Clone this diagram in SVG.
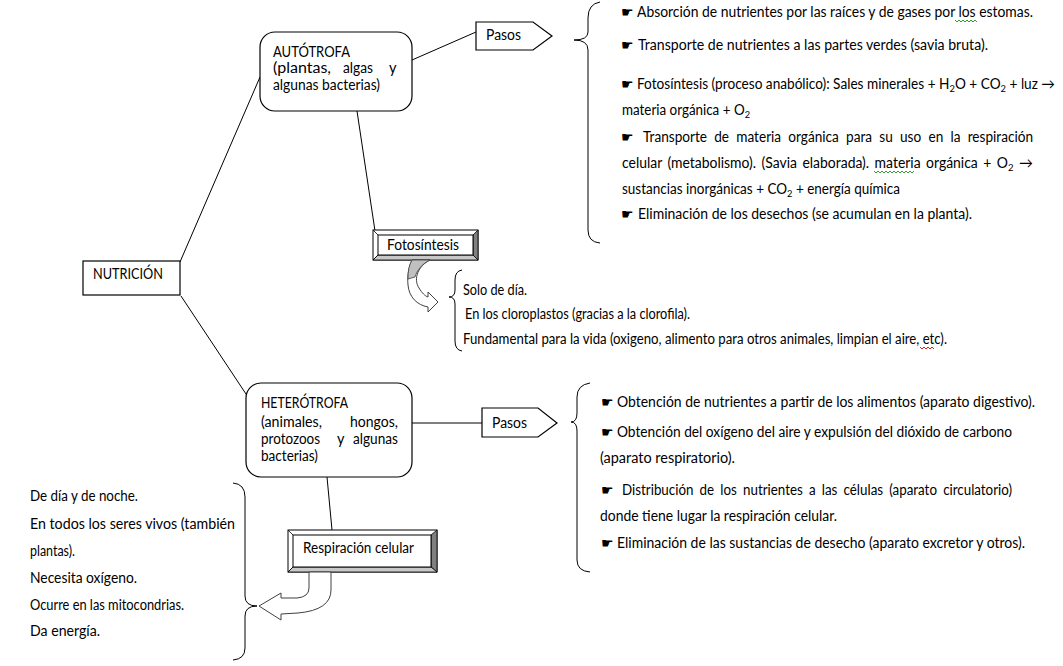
<svg xmlns="http://www.w3.org/2000/svg" width="1063" height="666" viewBox="0 0 1063 666">
<style>
text{font-family:Lato,"Liberation Sans",sans-serif;font-size:14.5px;fill:#000}
.h{font-family:"DejaVu Sans",sans-serif;font-size:14px}
.ln{stroke:#000;stroke-width:1;fill:none}
.box{fill:#fff;stroke:#000;stroke-width:1.2}
.br{fill:none;stroke:#000;stroke-width:1}
.sq{fill:none;stroke-width:1}
</style>
<rect width="1063" height="666" fill="#fff"/>
<g id="connectors">
<line class="ln" x1="180" y1="262" x2="260" y2="77"/>
<line class="ln" x1="181" y1="296" x2="248" y2="397"/>
<line class="ln" x1="412" y1="60" x2="476" y2="32"/>
<line class="ln" x1="357" y1="111" x2="375" y2="231"/>
<line class="ln" x1="412" y1="423" x2="482" y2="423"/>
<line class="ln" x1="327" y1="477" x2="332" y2="530"/>
</g>
<g id="nutricion">
<rect class="box" x="83" y="261" width="97" height="34"/>
<text x="93" y="279" textLength="70" lengthAdjust="spacingAndGlyphs">NUTRICIÓN</text>
</g>
<g id="autotrofa">
<rect class="box" x="260" y="32" width="152" height="79" rx="15"/>
<text x="273" y="57" textLength="77" lengthAdjust="spacingAndGlyphs">AUTÓTROFA</text>
<text x="273" y="73" textLength="58" lengthAdjust="spacingAndGlyphs">(plantas,</text>
<text x="343" y="73" textLength="30" lengthAdjust="spacingAndGlyphs">algas</text>
<text x="389" y="73">y</text>
<text x="273" y="90" textLength="107" lengthAdjust="spacingAndGlyphs">algunas bacterias)</text>
</g>
<g id="pasos1">
<path class="box" d="M476,22 L533,22 L552,36 L533,50 L476,50 Z"/>
<text x="486" y="40" textLength="35" lengthAdjust="spacingAndGlyphs">Pasos</text>
</g>
<g id="heterotrofa">
<rect class="box" x="246" y="383" width="166" height="94" rx="15"/>
<text x="261" y="408" textLength="87" lengthAdjust="spacingAndGlyphs">HETERÓTROFA</text>
<text x="261" y="427" textLength="61" lengthAdjust="spacingAndGlyphs">(animales,</text>
<text x="350" y="427" textLength="48" lengthAdjust="spacingAndGlyphs">hongos,</text>
<text x="261" y="444" textLength="59" lengthAdjust="spacingAndGlyphs">protozoos</text>
<text x="337" y="444">y</text>
<text x="353" y="444" textLength="45" lengthAdjust="spacingAndGlyphs">algunas</text>
<text x="261" y="461" textLength="57" lengthAdjust="spacingAndGlyphs">bacterias)</text>
</g>
<g id="pasos2">
<path class="box" d="M482,408 L538,408 L557,423 L538,437 L482,437 Z"/>
<text x="492" y="428" textLength="35" lengthAdjust="spacingAndGlyphs">Pasos</text>
</g>
<g id="fotosintesis">
<rect x="373" y="230" width="105" height="30" fill="#fff" stroke="#000"/>
<polygon points="473,235 478,230 478,260 473,255" fill="#808080" stroke="#000" stroke-width="0.8"/>
<polygon points="378,255 473,255 478,260 373,260" fill="#c8c8c8" stroke="#000" stroke-width="0.8"/>
<line x1="373" y1="230" x2="378" y2="235" stroke="#000" stroke-width="0.8"/>
<line x1="373" y1="260" x2="378" y2="255" stroke="#000" stroke-width="0.8"/>
<rect x="378" y="235" width="95" height="20" fill="#fff" stroke="#000"/>
<text x="387" y="250" textLength="72" lengthAdjust="spacingAndGlyphs">Fotosíntesis</text>
</g>
<g id="arrow-foto">
<path d="M430,260 C418,266 413,279 419,288 C422,293 425,296 428,297 L428,292 L438,302 L428,312 L428,307 C417,305 409,297 408,285 C407,275 409,266 412,260 Z" fill="#fff" stroke="#404040" stroke-width="1"/>
<path d="M412,260 L430,260 C422,264 417,270 415,277 L408,279 C408,271 409,265 412,260 Z" fill="#c0c0c0" stroke="#404040" stroke-width="0.8"/>
</g>
<g id="respiracion">
<rect x="288" y="530" width="149" height="42" fill="#fff" stroke="#000"/>
<polygon points="431,535 437,530 437,572 431,567" fill="#808080" stroke="#000" stroke-width="0.8"/>
<polygon points="293,567 431,567 437,572 288,572" fill="#c8c8c8" stroke="#000" stroke-width="0.8"/>
<line x1="288" y1="530" x2="293" y2="535" stroke="#000" stroke-width="0.8"/>
<line x1="288" y1="572" x2="293" y2="567" stroke="#000" stroke-width="0.8"/>
<rect x="293" y="535" width="138" height="32" fill="#fff" stroke="#000"/>
<text x="303" y="553" textLength="111" lengthAdjust="spacingAndGlyphs">Respiración celular</text>
</g>
<g id="arrow-resp">
<path d="M309,572 L309,588 Q309,597 297,598 L281,598 L281,593 L259,606 L281,620 L281,614 L298,613 Q331,610 331,590 L331,572 Z" fill="#fff" stroke="#404040" stroke-width="1"/>
</g>
<g id="braces">
<path class="br" d="M600,2 Q588,4 588,18 L588,32 Q588,40 574,40 Q588,40 588,50 L588,230 Q588,242 600,243"/>
<path class="br" d="M590,383 Q577,385 577,397 L577,413 Q577,422 571,422 Q577,422 577,431 L577,560 Q577,571 590,572"/>
<path class="br" d="M462,270 Q455,271 455,280 L455,290 Q455,297 449,297 Q455,297 455,304 L455,341 Q455,350 462,351"/>
<path class="br" d="M233,483 Q245,484 245,497 L245,596 Q245,606 257,606 Q245,606 245,616 L245,648 Q245,659 233,660"/>
</g>
<g id="autotrofa-pasos-text">
<text class="h" x="621" y="17">☛</text>
<text x="637" y="17" textLength="396" lengthAdjust="spacingAndGlyphs">Absorción de nutrientes por las raíces y de gases por los estomas.</text>
<text class="h" x="621" y="50">☛</text>
<text x="638" y="50" textLength="350" lengthAdjust="spacingAndGlyphs">Transporte de nutrientes a las partes verdes (savia bruta).</text>
<text class="h" x="621" y="89">☛</text>
<text x="637" y="89" textLength="418" lengthAdjust="spacingAndGlyphs">Fotosíntesis (proceso anabólico): Sales minerales + H<tspan font-size="10" dy="3">2</tspan><tspan dy="-3">O + CO</tspan><tspan font-size="10" dy="3">2</tspan><tspan dy="-3"> + luz →</tspan></text>
<text x="622" y="115" textLength="128" lengthAdjust="spacingAndGlyphs">materia orgánica + O<tspan font-size="10" dy="3">2</tspan></text>
<text class="h" x="621" y="142">☛</text>
<text x="643" y="142" word-spacing="4" textLength="390" lengthAdjust="spacingAndGlyphs">Transporte de materia orgánica para su uso en la respiración</text>
<text x="622" y="168" word-spacing="2" textLength="411" lengthAdjust="spacingAndGlyphs">celular (metabolismo). (Savia elaborada). materia orgánica + O<tspan font-size="10" dy="3">2</tspan><tspan dy="-3"> →</tspan></text>
<text x="622" y="194" textLength="278" lengthAdjust="spacingAndGlyphs">sustancias inorgánicas + CO<tspan font-size="10" dy="3">2</tspan><tspan dy="-3"> + energía química</tspan></text>
<text class="h" x="621" y="219">☛</text>
<text x="638" y="219" textLength="334" lengthAdjust="spacingAndGlyphs">Eliminación de los desechos (se acumulan en la planta).</text>
<path class="sq" stroke="#3a9a3a" d="M955,20 l2,2 l2,-2 l2,2 l2,-2 l2,2 l2,-2 l2,2 l2,-2 l2,2 l2,-2 l2,2"/>
<path class="sq" stroke="#3a9a3a" d="M874,171 l2,2 l2,-2 l2,2 l2,-2 l2,2 l2,-2 l2,2 l2,-2 l2,2 l2,-2 l2,2 l2,-2 l2,2 l2,-2 l2,2 l2,-2 l2,2 l2,-2 l2,2 l2,-2"/>
</g>
<g id="fotosintesis-text">
<text x="463" y="295" textLength="64" lengthAdjust="spacingAndGlyphs">Solo de día.</text>
<text x="465" y="319" textLength="225" lengthAdjust="spacingAndGlyphs">En los cloroplastos (gracias a la clorofila).</text>
<text x="463" y="344" textLength="484" lengthAdjust="spacingAndGlyphs">Fundamental para la vida (oxigeno, alimento para otros animales, limpian el aire, etc).</text>
<path class="sq" stroke="#d02020" d="M920,347 l2,2 l2,-2 l2,2 l2,-2 l2,2 l2,-2 l2,2"/>
</g>
<g id="heterotrofa-pasos-text">
<text class="h" x="601" y="407">☛</text>
<text x="617" y="407" textLength="418" lengthAdjust="spacingAndGlyphs">Obtención de nutrientes a partir de los alimentos (aparato digestivo).</text>
<text class="h" x="601" y="437">☛</text>
<text x="617" y="437" textLength="395" lengthAdjust="spacingAndGlyphs">Obtención del oxígeno del aire y expulsión del dióxido de carbono</text>
<text x="600" y="463" textLength="135" lengthAdjust="spacingAndGlyphs">(aparato respiratorio).</text>
<text class="h" x="601" y="495">☛</text>
<text x="622" y="495" word-spacing="3" textLength="390" lengthAdjust="spacingAndGlyphs">Distribución de los nutrientes a las células (aparato circulatorio)</text>
<text x="600" y="521" textLength="237" lengthAdjust="spacingAndGlyphs">donde tiene lugar la respiración celular.</text>
<text class="h" x="601" y="548">☛</text>
<text x="617" y="548" textLength="408" lengthAdjust="spacingAndGlyphs">Eliminación de las sustancias de desecho (aparato excretor y otros).</text>
</g>
<g id="respiracion-text">
<text x="30" y="501" textLength="108" lengthAdjust="spacingAndGlyphs">De día y de noche.</text>
<text x="30" y="529" textLength="205" lengthAdjust="spacingAndGlyphs">En todos los seres vivos (también</text>
<text x="30" y="556" textLength="45" lengthAdjust="spacingAndGlyphs">plantas).</text>
<text x="30" y="583" textLength="107" lengthAdjust="spacingAndGlyphs">Necesita oxígeno.</text>
<text x="30" y="610" textLength="154" lengthAdjust="spacingAndGlyphs">Ocurre en las mitocondrias.</text>
<text x="30" y="636" textLength="70" lengthAdjust="spacingAndGlyphs">Da energía.</text>
</g>
</svg>
